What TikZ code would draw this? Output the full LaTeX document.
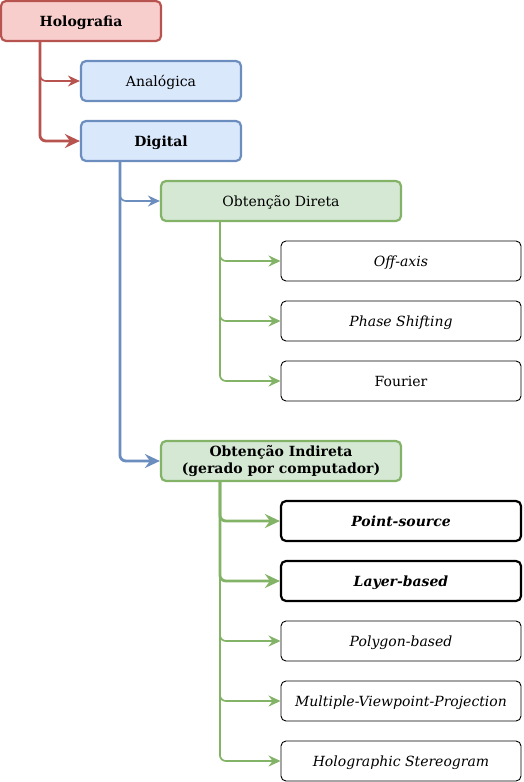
\documentclass[tikz,border=0pt]{standalone}
\usepackage{fontspec}
\setmainfont{DejaVu Serif}
\usetikzlibrary{arrows.meta}
\definecolor{redfill}{HTML}{F8CECC}
\definecolor{redline}{HTML}{B85450}
\definecolor{bluefill}{HTML}{DAE8FC}
\definecolor{blueline}{HTML}{6C8EBF}
\definecolor{greenfill}{HTML}{D5E8D4}
\definecolor{greenline}{HTML}{82B366}
\tikzset{
  basebox/.style={rectangle, rounded corners=5pt, minimum height=40pt, inner sep=0pt,
    font=\fontsize{14}{17}\selectfont, align=center},
  box/.style={basebox, text height=11.2pt, text depth=1pt},
  redbox/.style={box, draw=redline, fill=redfill, line width=2.2pt, minimum width=160pt},
  bluebox/.style={box, draw=blueline, fill=bluefill, line width=2.2pt, minimum width=160pt},
  greenbox/.style={box, draw=greenline, fill=greenfill, line width=2.2pt, minimum width=240pt},
  greenbox2/.style={basebox, draw=greenline, fill=greenfill, line width=2.2pt, minimum width=240pt},
  leafbox/.style={box, draw=black, fill=white, line width=0.9pt, minimum width=240pt},
  boldleaf/.style={box, draw=black, fill=white, line width=2.2pt, minimum width=240pt},
  conn/.style={rounded corners=6pt, line width=1.7pt, -{Stealth[length=12pt,width=11pt,inset=4pt]}},
  thickconn/.style={rounded corners=6pt, line width=2.8pt, -{Stealth[length=15pt,width=14pt,inset=5pt]}},
}
\begin{document}
\begin{tikzpicture}[x=1pt,y=-1pt]
\useasboundingbox (0,0) rectangle (523,782);
\node[redbox] (hol) at (81,21) {\textbf{Holografia}};
\node[bluebox] (ana) at (161,81) {Analógica};
\node[bluebox] (dig) at (161,141) {\textbf{Digital}};
\node[greenbox] (dir) at (281,201) {Obtenção Direta};
\node[leafbox] (off) at (401,261) {\textit{Off-axis}};
\node[leafbox] (pha) at (401,321) {\textit{Phase Shifting}};
\node[leafbox] (fou) at (401,381) {Fourier};
\node[greenbox2] (ind) at (281,461) {\textbf{Obtenção Indireta}\\\textbf{(gerado por computador)}};
\node[boldleaf] (pts) at (401,521) {\textbf{\textit{Point-source}}};
\node[boldleaf] (lay) at (401,581) {\textbf{\textit{Layer-based}}};
\node[leafbox] (pol) at (401,641) {\textit{Polygon-based}};
\node[leafbox] (mvp) at (401,701) {\textit{Multiple-Viewpoint-Projection}};
\node[leafbox] (hst) at (401,761) {\textit{Holographic Stereogram}};

\draw[conn, redline] ([xshift=40pt]hol.south west) |- (ana.west);
\draw[thickconn, redline] ([xshift=40pt]hol.south west) |- (dig.west);
\draw[conn, blueline] ([xshift=40pt]dig.south west) |- (dir.west);
\draw[thickconn, blueline] ([xshift=40pt]dig.south west) |- (ind.west);
\foreach \t in {off,pha,fou}
  \draw[conn, greenline] ([xshift=60pt]dir.south west) |- (\t.west);
\foreach \t in {pts,lay}
  \draw[thickconn, greenline] ([xshift=60pt]ind.south west) |- (\t.west);
\foreach \t in {pol,mvp,hst}
  \draw[conn, greenline] ([xshift=60pt]ind.south west) |- (\t.west);
\end{tikzpicture}
\end{document}
